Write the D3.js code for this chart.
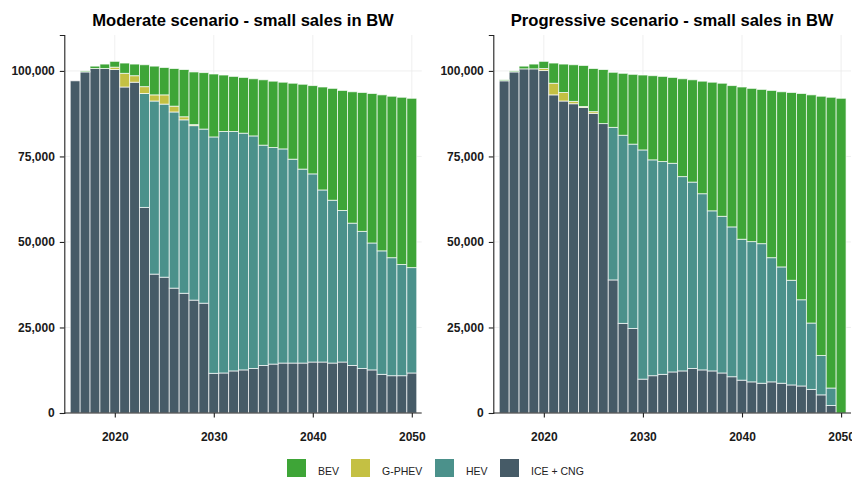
<!DOCTYPE html>
<html>
<head>
<meta charset="utf-8">
<script src="https://d3js.org/d3.v7.min.js"></script>
<style>
  body { margin: 0; background: #fff; }
  svg { display: block; font-family: "Liberation Sans", Arial, Helvetica, sans-serif; }
</style>
</head>
<body>
<svg width="852" height="477"></svg>
<script>
const years = [2016, 2017, 2018, 2019, 2020, 2021, 2022, 2023, 2024, 2025,
  2026, 2027, 2028, 2029, 2030, 2031, 2032, 2033, 2034, 2035,
  2036, 2037, 2038, 2039, 2040, 2041, 2042, 2043, 2044, 2045,
  2046, 2047, 2048, 2049, 2050];

// moderate scenario (vehicles)
const modIce = [97100, 99700, 100700, 100700, 100400, 95300, 96700, 60100, 40600, 39700,
  36500, 35000, 33000, 32100, 11600, 11700, 12300, 12600, 13000, 13900,
  14300, 14600, 14600, 14600, 14900, 14900, 14600, 14900, 13900, 13000,
  12600, 11300, 10900, 10900, 11700];
const modHev = [0, 0, 0, 0, 0, 0, 0, 33300, 50600, 50600,
  51500, 50700, 51000, 50900, 69100, 70600, 70000, 69200, 68000, 64400,
  63300, 62600, 59600, 56700, 55000, 50300, 47600, 44300, 41600, 40100,
  37100, 36100, 34500, 32500, 30800];
const modPhev = [0, 0, 0, 0, 700, 4000, 1900, 2000, 1800, 2700,
  1700, 900, 300, 0, 0, 0, 0, 0, 0, 0,
  0, 0, 0, 0, 0, 0, 0, 0, 0, 0,
  0, 0, 0, 0, 0];
const modBev = [0, 300, 700, 1300, 1700, 3000, 3400, 6400, 8400, 8000,
  11000, 13800, 15400, 16500, 18400, 16500, 16100, 16300, 16700, 19100,
  19400, 19500, 22200, 24800, 25800, 30100, 32700, 35100, 38400, 40600,
  43700, 45600, 47200, 48900, 49500];

// progressive scenario (vehicles)
const proIce = [97100, 99700, 100600, 100600, 100100, 93000, 91200, 90400, 89300, 87600,
  84600, 38900, 26200, 24700, 9900, 10900, 11300, 12000, 12300, 13000,
  12600, 12300, 11700, 10600, 9600, 9100, 8700, 9100, 8700, 8200,
  7900, 6900, 5300, 2200, 0];
const proHev = [0, 0, 0, 0, 0, 0, 0, 0, 0, 0,
  0, 44600, 55000, 53900, 67000, 63100, 62200, 61000, 56800, 54500,
  51500, 46800, 45800, 43800, 41200, 41000, 40800, 36300, 34000, 30600,
  25200, 19400, 11500, 5100, 0];
const proPhev = [0, 0, 0, 0, 600, 3400, 2500, 700, 300, 500,
  0, 0, 0, 0, 0, 0, 0, 0, 0, 0,
  0, 0, 0, 0, 0, 0, 0, 0, 0, 0,
  0, 0, 0, 0, 0];
const proBev = [300, 300, 800, 1400, 2100, 5900, 8300, 10700, 12000, 12600,
  15800, 16100, 18100, 20400, 21900, 24600, 24900, 25100, 28600, 29900,
  32900, 37600, 38900, 41300, 44500, 44800, 45100, 48900, 51200, 54900,
  60300, 66700, 75800, 85000, 92000];

const seriesKeys = ["ICE + CNG", "HEV", "G-PHEV", "BEV"];
const legendKeys = ["BEV", "G-PHEV", "HEV", "ICE + CNG"];
const colors = {"BEV": "#3ea537", "G-PHEV": "#c4c043", "HEV": "#4b918b", "ICE + CNG": "#465b67"};
const xTicks = [2020, 2030, 2040, 2050];
const yTicks = [0, 25000, 50000, 75000, 100000];

const panels = [
  {title: "Moderate scenario - small sales in BW", x0: 64.3, x1: 421.7,
   cols: [modIce, modHev, modPhev, modBev]},
  {title: "Progressive scenario - small sales in BW", x0: 493.3, x1: 851,
   cols: [proIce, proHev, proPhev, proBev]}
];

const svg = d3.select("svg");
const yTop = 35, yBot = 413;
const y = d3.scaleLinear().domain([0, 110500]).range([yBot, yTop]);
const fmt = d3.format(",");

panels.forEach(p => {
  const x = d3.scaleLinear().domain([2014.9, 2051.0]).range([p.x0, p.x1]);
  const g = svg.append("g");

  // grid
  g.append("g").selectAll("line.gy").data(yTicks.slice(1)).join("line")
    .attr("x1", p.x0).attr("x2", p.x1)
    .attr("y1", d => y(d)).attr("y2", d => y(d))
    .attr("stroke", "#ebebeb").attr("stroke-width", 0.8);
  g.append("g").selectAll("line.gx").data(xTicks).join("line")
    .attr("x1", d => x(d)).attr("x2", d => x(d))
    .attr("y1", yTop).attr("y2", yBot)
    .attr("stroke", "#ebebeb").attr("stroke-width", 0.8);

  // stacked data
  const rows = years.map((yr, i) => {
    const r = {year: yr};
    seriesKeys.forEach((k, j) => r[k] = p.cols[j][i]);
    return r;
  });
  const stacked = d3.stack().keys(seriesKeys)(rows);

  g.append("g").selectAll("g").data(stacked).join("g")
    .attr("fill", d => colors[d.key])
    .selectAll("rect").data(d => d.filter(s => s[1] - s[0] > 0)).join("rect")
    .attr("x", d => x(d.data.year - 0.5))
    .attr("width", d => x(d.data.year + 0.5) - x(d.data.year - 0.5))
    .attr("y", d => y(d[1]))
    .attr("height", d => y(d[0]) - y(d[1]))
    .attr("stroke", "#ffffff").attr("stroke-opacity", 0.75).attr("stroke-width", 0.9);

  // axes
  const xAxis = g.append("g").attr("transform", `translate(0,${yBot})`)
    .call(d3.axisBottom(x).tickValues(xTicks).tickFormat(d3.format("d")).tickSizeOuter(0).tickSize(4.5).tickPadding(15));
  xAxis.select(".domain").attr("d", `M${p.x0},0H${p.x1}`);
  const yAxis = g.append("g").attr("transform", `translate(${p.x0},0)`)
    .call(d3.axisLeft(y).tickValues(yTicks).tickFormat(fmt).tickSizeOuter(0).tickSize(4.5).tickPadding(5));
  [xAxis, yAxis].forEach(a => {
    a.select(".domain").attr("stroke", "#222").attr("stroke-width", 1.1);
    a.selectAll(".tick line").attr("stroke", "#222").attr("stroke-width", 1.1);
    a.selectAll("text").attr("fill", "#1a1a1a").style("font-size", "12px").style("font-weight", "bold")
      .style("font-family", "'Liberation Sans', Arial, sans-serif");
  });

  g.append("text").attr("x", (p.x0 + p.x1) / 2).attr("y", 26)
    .attr("text-anchor", "middle").style("font-size", "16.6px").style("font-weight", "bold")
    .attr("fill", "#000").text(p.title);
});

// legend
const legendX = [287, 351, 435, 500];
const lg = svg.append("g");
legendKeys.forEach((k, i) => {
  lg.append("rect").attr("x", legendX[i]).attr("y", 459).attr("width", 19).attr("height", 19)
    .attr("fill", colors[k]);
  lg.append("text").attr("x", legendX[i] + 31).attr("y", 474.5)
    .style("font-size", "10.5px").attr("fill", "#222").text(k);
});
</script>
</body>
</html>
